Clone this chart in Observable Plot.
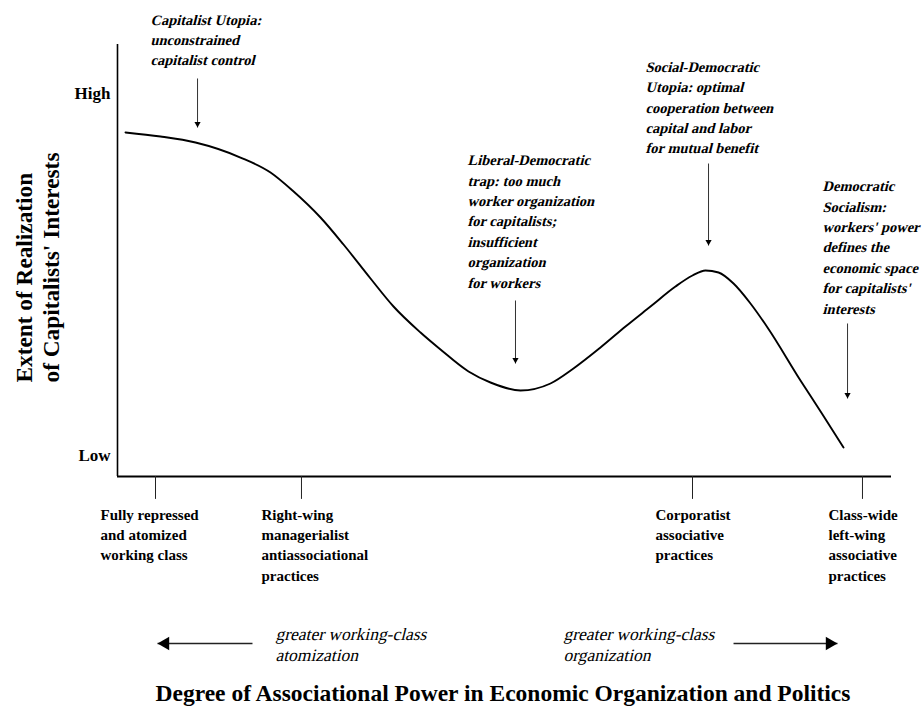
<!DOCTYPE html>
<html><head><meta charset="utf-8">
<script src="https://cdn.jsdelivr.net/npm/d3@7"></script>
<script src="https://cdn.jsdelivr.net/npm/@observablehq/plot@0.6"></script>
<style>
html,body{margin:0;padding:0;background:#fff;}
#chart{width:922px;height:708px;}
</style></head><body><div id="chart"></div>
<script>
// Conceptual curve: x = degree of associational power (0–100), y = extent of realization of capitalists' interests (0–100)
const curveX = [1.03, 5.56, 10.08, 15.89, 19.77, 22.61, 26.23, 29.20, 32.69, 35.66, 39.15, 41.73, 45.35, 48.19, 52.07, 55.94, 58.91, 62.40, 65.63, 68.86, 72.09, 74.29, 75.97, 77.65, 79.59, 81.78, 83.98, 88.24, 91.09, 93.80];
const curveY = [79.63, 78.70, 77.31, 73.84, 70.37, 66.20, 59.95, 53.70, 45.83, 39.35, 33.33, 29.40, 24.31, 21.76, 19.91, 21.53, 25.00, 29.86, 34.72, 39.35, 43.98, 46.53, 47.69, 47.22, 44.68, 40.05, 34.49, 22.22, 14.35, 6.71];

// Y axis tick labels
const yTickValues = [87.5, 3.7];
const yTickLabels = ["High", "Low"];

// X axis categories
const xTickValues = [4.91, 23.77, 74.29, 96.25];
const xTickLabels = [
  "Fully repressed\nand atomized\nworking class",
  "Right-wing\nmanagerialist\nantiassociational\npractices",
  "Corporatist\nassociative\npractices",
  "Class-wide\nleft-wing\nassociative\npractices"
];

// Annotations (text block start x / last-line y, arrow x / from y / to y)
const annoText = [
  "Capitalist Utopia:\nunconstrained\ncapitalist control",
  "Liberal-Democratic\ntrap: too much\nworker organization\nfor capitalists;\ninsufficient\norganization\nfor workers",
  "Social-Democratic\nUtopia: optimal\ncooperation between\ncapital and labor\nfor mutual benefit",
  "Democratic\nSocialism:\nworkers' power\ndefines the\neconomic space\nfor capitalists'\ninterests"
];
const annoX = [4.26, 45.22, 68.22, 91.09];
const annoY = [95.14, 43.75, 74.77, 37.73];
const arrowX = [10.34, 51.42, 76.36, 94.32];
const arrowY1 = [92.13, 40.74, 72.45, 35.42];
const arrowY2 = [80.79, 26.16, 53.47, 18.06];

// Direction legend below the axis
const dirText = ["greater working-class\natomization", "greater working-class\norganization"];
const dirTextX = [20.41, 57.62];
const dirFrom = [17.44, 79.59];
const dirTo = [5.17, 93.02];
const dirRotate = [-90, 90];

const xTitle = "Degree of Associational Power in Economic Organization and Politics";
const yTitle = "Extent of Realization\nof Capitalists' Interests";

// ---- layout constants (not data) ----
const M = {left: 117, right: 31, top: 44, bottom: 232};
const pxPerY = (708 - M.bottom - M.top) / 100;
const xLabelDx = [-55, -40, -37, -34];
const dirY = -38.66, dirTextY = -42.8;
const SLANT = -14;

// split multi-line strings into one record per line so each line can be slanted on its own baseline
function perLine(items, linePx) {
  return items.flatMap(a => {
    const ls = a.t.split("\n");
    return ls.map((line, k) => ({...a, line, y: a.y + (ls.length - 1 - k) * linePx / pxPerY}));
  });
}

const curve = curveX.map((x, i) => ({x, y: curveY[i]}));
const annos = annoText.map((t, i) => ({t, x: annoX[i], y: annoY[i]}));
const arrows = arrowX.map((x, i) => ({x, y1: arrowY1[i], y2: arrowY2[i]}));
const dirs = dirText.map((t, i) => ({t, x: dirTextX[i], y: dirTextY, x1: dirFrom[i], x2: dirTo[i], r: dirRotate[i]}));
const annoLines = perLine(annos, 20.4);
const dirLines = perLine(dirs, 21);
const slantSet = new Set([...annoLines, ...dirLines].map(d => d.line));

const serif = "'Liberation Serif', 'Times New Roman', Times, serif";

const marks = [
  Plot.ruleX([0], {stroke: "#000", strokeWidth: 1.6}),
  Plot.ruleY([0], {stroke: "#000", strokeWidth: 1.8}),
  Plot.ruleX(xTickValues, {y1: 0, y2: -5.3, stroke: "#222", strokeWidth: 1}),
  Plot.line(curve, {x: "x", y: "y", curve: "monotone-x", stroke: "#000", strokeWidth: 1.9}),
  Plot.text(yTickValues.map((v, i) => ({v, t: yTickLabels[i]})), {
    y: "v", text: "t", frameAnchor: "left", textAnchor: "end", lineAnchor: "bottom",
    dx: -7, fontSize: 17, fontWeight: "bold", fill: "#000"
  }),
  ...xTickLabels.map((t, i) => Plot.text([{x: xTickValues[i], t}], {
    x: "x", text: "t", frameAnchor: "bottom", dy: 29, dx: xLabelDx[i],
    textAnchor: "start", lineAnchor: "top", lineHeight: 1.35,
    fontSize: 15, fontWeight: "bold", fill: "#000"
  })),
  Plot.text(annoLines, {
    x: "x", y: "y", text: "line", textAnchor: "start", lineAnchor: "bottom",
    fontSize: 14.5, fontWeight: "bold", fill: "#000"
  }),
  Plot.link(arrows, {x1: "x", x2: "x", y1: "y1", y2: "y2", stroke: "#333", strokeWidth: 1}),
  Plot.dot(arrows, {x: "x", y: "y2", symbol: "triangle", rotate: 180, r: 2.3, fill: "#000", stroke: null, dy: -3.6}),
  Plot.link(dirs, {x1: "x1", x2: "x2", y1: dirY, y2: dirY, stroke: "#222", strokeWidth: 1.4}),
  Plot.dot(dirs.filter(d => d.r < 0), {x: "x2", y: dirY, symbol: "triangle", rotate: "r", r: 5, fill: "#000", stroke: null, dx: 7.8}),
  Plot.dot(dirs.filter(d => d.r > 0), {x: "x2", y: dirY, symbol: "triangle", rotate: "r", r: 5, fill: "#000", stroke: null, dx: -7.8}),
  Plot.text(dirLines, {
    x: "x", y: "y", text: "line", textAnchor: "start", lineAnchor: "bottom",
    fontSize: 17.5, fill: "#000"
  }),
  Plot.text([xTitle], {
    text: d => d, frameAnchor: "bottom-left", dx: 38, dy: 224, textAnchor: "start", lineAnchor: "bottom",
    fontSize: 23.5, fontWeight: "bold", fill: "#000"
  }),
  Plot.text([yTitle], {
    text: d => d, frameAnchor: "left", rotate: -90, dx: -105, dy: 122, textAnchor: "start", lineAnchor: "top",
    lineHeight: 1.17, fontSize: 23.3, fontWeight: "bold", fill: "#000"
  })
];

const chart = Plot.plot({
  width: 922, height: 708,
  marginLeft: M.left, marginRight: M.right, marginTop: M.top, marginBottom: M.bottom,
  x: {domain: [0, 100], axis: null},
  y: {domain: [0, 100], axis: null},
  style: {fontFamily: serif, background: "#fff", color: "#000"},
  marks
});

// slant the italic texts around each line's own baseline origin
chart.querySelectorAll("text").forEach(el => {
  if (el.querySelector("tspan") || !slantSet.has(el.textContent)) return;
  const t = el.getAttribute("transform");
  if (t) el.setAttribute("transform", `${t} skewX(${SLANT})`);
  else {
    const x = parseFloat(el.getAttribute("x")) || 0, y = parseFloat(el.getAttribute("y")) || 0;
    el.removeAttribute("x"); el.removeAttribute("y");
    el.setAttribute("transform", `translate(${x},${y}) skewX(${SLANT})`);
  }
});
document.getElementById("chart").appendChild(chart);
</script>
</body></html>
